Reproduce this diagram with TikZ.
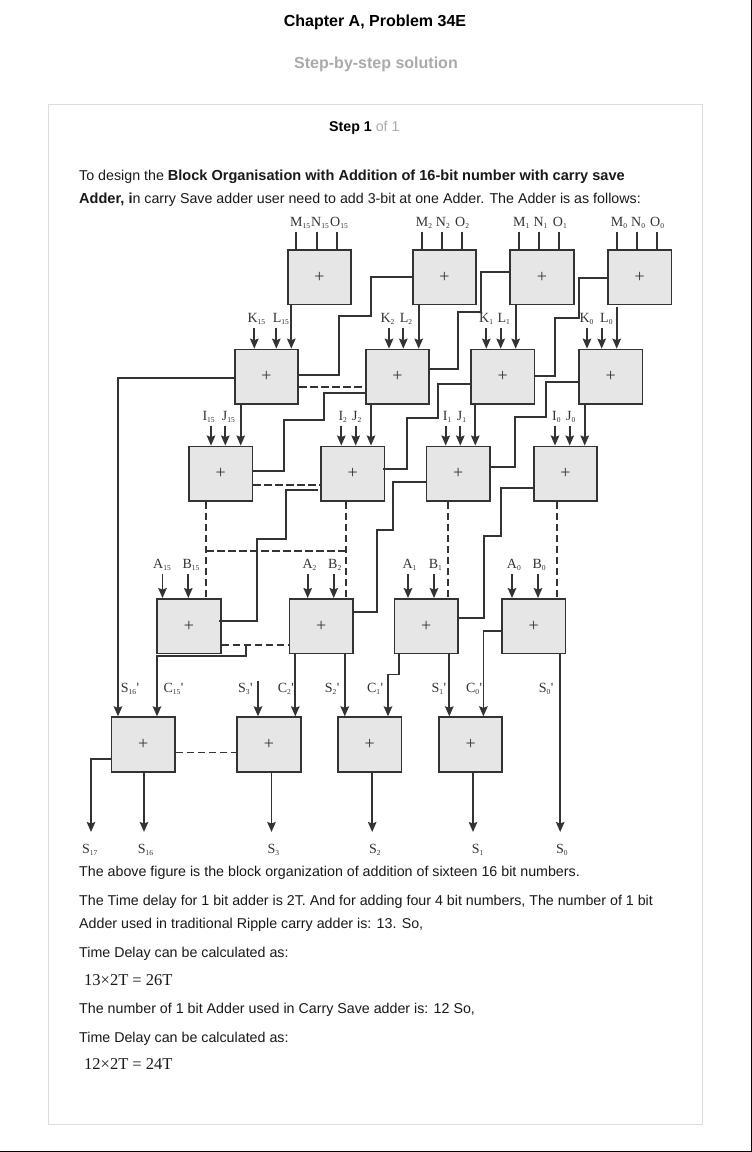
\documentclass[tikz,border=0pt]{standalone}
\usepackage{fontspec}
\setmainfont{Liberation Sans}
\newfontfamily\serifface{Liberation Serif}
\usetikzlibrary{arrows.meta}
\definecolor{ink}{HTML}{333333}
\definecolor{boxfill}{HTML}{E6E6E6}
\definecolor{cardline}{HTML}{DDDDDD}
\definecolor{softgray}{HTML}{AAAAAA}
\tikzset{
  adder/.style={draw=ink,fill=boxfill,line width=1.8pt,minimum width=63.5pt,minimum height=54.5pt,inner sep=0pt,font=\serifface\fontsize{18}{18}\selectfont,text=ink},
  wire/.style={draw=ink,line width=1.7pt},
  dashwire/.style={draw=ink,line width=1.7pt,dash pattern=on 7.5pt off 3.5pt},
  arrowwire/.style={wire,-{Stealth[length=10pt,width=8.5pt,inset=1.5pt]}},
  lab/.style={anchor=base west,inner sep=0pt,text=ink,font=\serifface\fontsize{14}{14}\selectfont},
  body/.style={anchor=base west,inner sep=0pt,font=\fontsize{14.25}{14.25}\selectfont,text=black!90},
  formula/.style={anchor=base west,inner sep=0pt,text=black!90,font=\serifface\fontsize{16.5}{16.5}\selectfont},
}
\newcommand{\lb}[2]{#1\textsubscript{\fontsize{7.5}{7.5}\selectfont #2}}
\newcommand{\bd}[1]{{\fontsize{14.55}{14.55}\selectfont\bfseries #1}}
\begin{document}
\begin{tikzpicture}[x=1pt,y=-1pt]
\useasboundingbox (0,0) rectangle (752,1152);
\fill[white] (0,0) rectangle (752,1152);
% page edges
\draw[black,line width=1pt] (751.5,0) -- (751.5,1152);
\draw[black,line width=1pt] (0,1151.5) -- (752,1151.5);
% card
\node[draw=cardline,line width=1pt,minimum width=654pt,minimum height=1020pt,inner sep=0pt] (card) at (375.5,614.5) {};
% headings
\node[inner sep=0pt,font=\bfseries\fontsize{16}{16}\selectfont] (title) at (375,22) {Chapter A, Problem 34E};
\node[inner sep=0pt,font=\bfseries\fontsize{16}{16}\selectfont,text=softgray] (sub) at (376,64) {Step-by-step solution};
\node[anchor=base west,inner sep=0pt,font=\fontsize{14.2}{14.2}\selectfont] (step) at (329,131) {\textbf{Step 1} \textcolor{softgray}{of 1}};
\node[body] (t1) at (79,180) {To design the \bd{Block Organisation with Addition of 16-bit number with carry save}};
\node[body] (t2) at (79,203) {\bd{Adder, i}n carry Save adder user need to add 3-bit at one Adder. The Adder is as follows:};
\node[body] (t3) at (79,876) {The above figure is the block organization of addition of sixteen 16 bit numbers.};
\node[body] (t4) at (79,905) {The Time delay for 1 bit adder is 2T. And for adding four 4 bit numbers, The number of 1 bit};
\node[body] (t5) at (79,928) {Adder used in traditional Ripple carry adder is: 13. So,};
\node[body] (t6) at (79,957) {Time Delay can be calculated as:};
\node[formula] (f1) at (84,985.5) {13×2T = 26T};
\node[body] (t7) at (79,1013) {The number of 1 bit Adder used in Carry Save adder is: 12 So,};
\node[body] (t8) at (79,1042) {Time Delay can be calculated as:};
\node[formula] (f2) at (84,1069.5) {12×2T = 24T};
% adders
\foreach \n/\x/\y in {a1/319.5/277.3,b1/444.5/277.3,c1/542/277.3,d1/639.7/277.3,
  a2/266.5/376.8,b2/397.5/376.8,c2/502.8/376.8,d2/610.7/376.8,
  a3/220.8/473.7,b3/352.8/473.7,c3/458.2/473.7,d3/565.5/473.7,
  a4/189/626.2,b4/321.2/626.2,c4/426.2/626.2,d4/533.8/626.2,
  a5/143.3/744.5,b5/269/744.5,c5/369.8/744.5,d5/470.6/744.5}
  {\node[adder] (\n) at (\x,\y) {+};}
% free-end coordinates for top stubs and inputs
\foreach \n/\x in {m15/296.3,n15/316.7,o15/336.7,m2/421.7,n2/441.7,o2/462,m1/519,n1/539,o1/559.3,m0/616.7,n0/636.7,o0/656.7}
  {\coordinate (\n) at (\x,231.7);}
\draw[wire] (m15) -- (m15|-a1.north); \draw[wire] (n15) -- (n15|-a1.north); \draw[wire] (o15) -- (o15|-a1.north);
\draw[wire] (m2) -- (m2|-b1.north); \draw[wire] (n2) -- (n2|-b1.north); \draw[wire] (o2) -- (o2|-b1.north);
\draw[wire] (m1) -- (m1|-c1.north); \draw[wire] (n1) -- (n1|-c1.north); \draw[wire] (o1) -- (o1|-c1.north);
\draw[wire] (m0) -- (m0|-d1.north); \draw[wire] (n0) -- (n0|-d1.north); \draw[wire] (o0) -- (o0|-d1.north);
% row 2 inputs
\foreach \n/\x/\t in {k15/254.3/a2,l15/276.3/a2,k2/389/b2,l2/403.3/b2,k1/486.3/c2,l1/500.7/c2,k0/587/d2,l0/601.7/d2}
  {\coordinate (\n) at (\x,328); \draw[arrowwire] (\n) -- (\n|-\t.north);}
\foreach \x/\s/\t in {291.3/a1/a2,418.7/b1/b2,515.7/c1/c2}
  {\draw[arrowwire] (\x,0|-\s.south) -- (\x,0|-\t.north);}
\coordinate (d1out) at (616.7,307);
\draw[arrowwire] (d1out) -- (d1out|-d2.north);
% row 3 inputs
\foreach \n/\x/\t in {i15/211/a3,j15/225.3/a3,i2/341.3/b3,j2/355.7/b3,i1/445.7/c3,j1/460.3/c3,i0/555/d3,j0/569.7/d3}
  {\coordinate (\n) at (\x,425.5); \draw[arrowwire] (\n) -- (\n|-\t.north);}
\foreach \x/\s/\t in {240.7/a2/a3,371/b2/b3,475.3/c2/c3,584.7/d2/d3}
  {\draw[arrowwire] (\x,0|-\s.south) -- (\x,0|-\t.north);}
% row 4 inputs
\foreach \n/\x/\t in {a15/162.5/a4,b15/188.3/a4,a2in/307.7/b4,b2in/333.7/b4,a1in/408/c4,b1in/434/c4,a0in/512/d4,b0in/538/d4}
  {\coordinate (\n) at (\x,574); \draw[arrowwire] (\n) -- (\n|-\t.north);}
% carries, row 1 to row 2
\draw[wire] (b1.west|-0,276.7) -- (370.7,276.7) -- (370.7,316.3) -- (338.7,316.3) -- (338.7,374.7) -- (a2.east|-0,374.7);
\draw[wire] (c1.west|-0,271.7) -- (480.7,271.7) -- (480.7,311.7) -- (458.3,311.7) -- (458.3,369.3) -- (b2.east|-0,369.3);
\draw[wire] (d1.west|-0,278) -- (578.7,278) -- (578.7,317.7) -- (555.3,317.7) -- (555.3,376) -- (c2.east|-0,376);
% carries, row 2 to row 3
\draw[wire] (b2.west|-0,393.3) -- (324.3,393.3) -- (324.3,420) -- (284.3,420) -- (284.3,470.7) -- (a3.east|-0,470.7);
\draw[wire] (c2.west|-0,384.3) -- (438.3,384.3) -- (438.3,418.3) -- (407.3,418.3) -- (407.3,469) -- (382.7,469);
\draw[wire] (d2.west|-0,382.3) -- (546,382.3) -- (546,416.7) -- (514.7,416.7) -- (514.7,467) -- (c3.east|-0,467);
% carries, row 3 to row 4
\draw[wire] (318,490.3) -- (285.7,490.3) -- (285.7,539) -- (256.7,539) -- (256.7,620.7) -- (219.3,620.7);
\draw[wire] (c3.west|-0,482) -- (392.7,482) -- (392.7,530.3) -- (377.3,530.3) -- (377.3,612) -- (b4.east|-0,612);
\draw[wire] (d3.west|-0,487.7) -- (501,487.7) -- (501,536) -- (484.3,536) -- (484.3,618) -- (c4.east|-0,618);
% dashed
\draw[dashwire] (a2.east|-0,386.7) -- (b2.west|-0,386.7);
\draw[dashwire] (a3.east|-0,484.7) -- (b3.west|-0,484.7);
\draw[dashwire] (a4.east|-0,644.7) -- (b4.west|-0,644.7);
\draw[dashwire] (a5.east|-0,752.5) -- (b5.west|-0,752.5);
\draw[dashwire] (206,0|-a3.south) -- (206,0|-a4.north);
\draw[dashwire] (346,0|-b3.south) -- (346,0|-b4.north);
\draw[dashwire] (447.7,0|-c3.south) -- (447.7,0|-c4.north);
\draw[dashwire] (557,0|-d3.south) -- (557,0|-d4.north);
\draw[dashwire] (206,551.3) -- (346,551.3);
% left-going into row 5
\draw[arrowwire] (a2.west|-0,378) -- (118,378) -- (118,0|-a5.north);
\draw[arrowwire] (246,644.7) -- (246,656) -- (157,656) -- (157,0|-a5.north);
\coordinate (s3p) at (258,681);
\draw[arrowwire] (s3p) -- (s3p|-b5.north);
\draw[arrowwire] (295.3,0|-b4.south) -- (295.3,0|-b5.north);
\draw[arrowwire] (344.8,0|-b4.south) -- (344.8,0|-c5.north);
\draw[arrowwire] (399.3,0|-c4.south) -- (399.3,674.5) -- (388,674.5) -- (388,0|-c5.north);
\draw[arrowwire] (449.3,0|-c4.south) -- (449.3,0|-d5.north);
\draw[arrowwire] (d4.west|-0,631.3) -- (483.4,631.3) -- (483.4,0|-d5.north);
% outputs
\coordinate (s17) at (91,832); \coordinate (s16) at (144,832); \coordinate (s3) at (271.5,832);
\coordinate (s2) at (372.2,832); \coordinate (s1) at (473,832); \coordinate (s0) at (560.2,832);
\draw[arrowwire] (a5.west|-0,759.3) -- (91,759.3) -- (s17);
\draw[arrowwire] (s16|-a5.south) -- (s16);
\draw[arrowwire] (s3|-b5.south) -- (s3);
\draw[arrowwire] (s2|-c5.south) -- (s2);
\draw[arrowwire] (s1|-d5.south) -- (s1);
\draw[arrowwire] (s0|-d4.south) -- (s0);
% labels
\foreach \n/\s/\x/\y in {M/15/290/226.7,N/15/311/226.7,O/15/330/226.7,M/2/415.7/226.7,N/2/435.7/226.7,O/2/455/226.7,
  M/1/513/226.7,N/1/533.3/226.7,O/1/552.7/226.7,M/0/610.7/226.7,N/0/631/226.7,O/0/650/226.7,
  K/15/247.3/322.3,L/15/272.7/322.3,K/2/380.3/322.3,L/2/399.7/322.3,K/1/479/322.3,L/1/497.3/322.3,K/0/579.3/322.3,L/0/600/322.3,
  I/15/202.3/420,J/15/221.7/420,I/2/338.3/420,J/2/352/420,I/1/442.7/420,J/1/456.7/420,I/0/552/420,J/0/566/420,
  A/15/153/568.3,B/15/182.3/568.3,A/2/302.3/568.3,B/2/328/568.3,A/1/402.3/568.3,B/1/428.7/568.3,A/0/506.7/568.3,B/0/532.3/568.3,
  S/17/81.8/853.7,S/16/137.6/853.7,S/3/267.4/853.7,S/2/368.8/853.7,S/1/471.6/853.7,S/0/555.8/853.7}
  {\node[lab] at (\x,\y) {\lb{\n}{\s}};}
\foreach \n/\s/\x in {S/16/120.7,C/15/163.3,S/3/238,C/2/277.6,S/2/324.6,C/1/366.8,S/1/431.4,C/0/465.9,S/0/538.6}
  {\node[lab] at (\x,692.4) {\lb{\n}{\s}'};}
\end{tikzpicture}
\end{document}
